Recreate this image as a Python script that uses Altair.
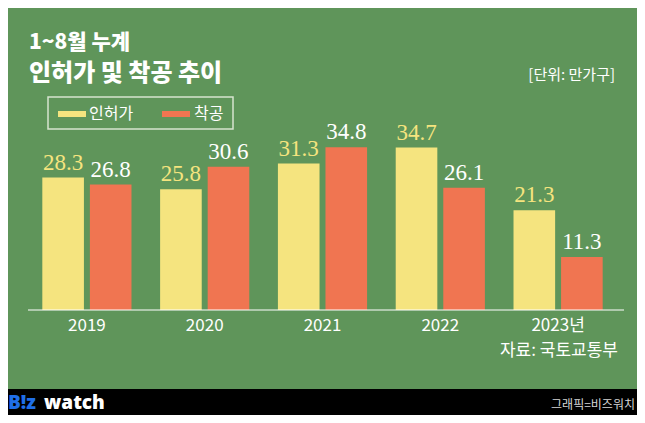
import altair as alt
import pandas as pd

years = ["2019", "2020", "2021", "2022", "2023년"]
permits = [28.3, 25.8, 31.3, 34.7, 21.3]
starts = [26.8, 30.6, 34.8, 26.1, 11.3]
series = ["인허가", "착공"]

BG = "#5f955a"
YEL = "#f5e47f"
RED = "#f07551"
KFONT = "Noto Sans CJK KR"
label_colors = {"인허가": YEL, "착공": "white"}

rows = []
for i, y in enumerate(years):
    rows.append({"year": y, "series": series[0], "value": permits[i], "lc": label_colors[series[0]]})
    rows.append({"year": y, "series": series[1], "value": starts[i], "lc": label_colors[series[1]]})
df = pd.DataFrame(rows)

xenc = alt.X("year:N", sort=years,
             scale=alt.Scale(paddingInner=0.243, paddingOuter=0.1215),
             axis=alt.Axis(title=None, labelAngle=0, domain=False, ticks=False,
                           labelColor="white", labelFont=KFONT, labelFontSize=17,
                           labelPadding=7))
xoff = alt.XOffset("series:N", sort=series,
                   scale=alt.Scale(paddingInner=0.125, paddingOuter=0))
yenc = alt.Y("value:Q", scale=alt.Scale(domain=[0, 44.87], nice=False, zero=True), axis=None)

base = alt.Chart(df)
bars = base.mark_bar().encode(
    x=xenc, xOffset=xoff, y=yenc,
    color=alt.Color("series:N", scale=alt.Scale(domain=series, range=[YEL, RED]), legend=None),
)
labels = base.mark_text(baseline="alphabetic", dy=-8, font="Liberation Serif", fontSize=23).encode(
    x=xenc, xOffset=xoff, y=yenc,
    text=alt.Text("value:Q", format=".1f"),
    color=alt.Color("lc:N", scale=None),
)

one = pd.DataFrame({"a": [0]})


def txt(s, x, y, size, color="white", weight="normal", align="left", font=KFONT, baseline="alphabetic"):
    return alt.Chart(one).mark_text(text=s, align=align, baseline=baseline, font=font,
                                    fontSize=size, fontWeight=weight, color=color).encode(
        x=alt.value(x), y=alt.value(y))


axis_rule = alt.Chart(one).mark_rule(color="white", strokeWidth=1.2).encode(
    x=alt.value(0), x2=alt.value(596), y=alt.value(210))

legend_box = alt.Chart(one).mark_rect(fill=None, stroke="#d8e4d0", strokeWidth=1.5).encode(
    x=alt.value(20), x2=alt.value(205), y=alt.value(-3), y2=alt.value(29))
sw1 = alt.Chart(one).mark_rule(color=YEL, strokeWidth=6).encode(
    x=alt.value(30), x2=alt.value(58), y=alt.value(14))
sw2 = alt.Chart(one).mark_rule(color=RED, strokeWidth=6).encode(
    x=alt.value(134), x2=alt.value(162), y=alt.value(14))

footer = alt.Chart(one).mark_rect(color="black").encode(
    x=alt.value(-20), x2=alt.value(609), y=alt.value(289), y2=alt.value(315))

layers = [
    footer,
    bars, labels, axis_rule,
    txt("1~8월 누계", 1, -51, 21, weight=900),
    txt("인허가 및 착공 추이", 1, -19, 24, weight=900),
    txt("[단위: 만가구]", 587, -20, 15, align="right"),
    legend_box, sw1, sw2,
    txt("인허가", 61, 14, 16, baseline="middle"),
    txt("착공", 166, 14, 16, baseline="middle"),
    txt("자료: 국토교통부", 590, 256, 17, align="right"),
    txt("B!z", -20, 309, 19, color="#1f6fe8", weight=900, font="Noto Sans"),
    txt("watch", 16, 309, 19, weight=900, font="Noto Sans"),
    txt("그래픽=비즈워치", 607, 309, 12, color="#d6d6d6", align="right"),
]

chart = alt.layer(*layers).properties(
    width=589, height=210,
    padding={"left": 20, "top": 92, "right": 20, "bottom": 105},
    autosize=alt.AutoSizeParams(type="none"),
    background=BG,
).configure_view(stroke=None)

chart.save("out.html", embed_options={"renderer": "svg", "actions": False})
